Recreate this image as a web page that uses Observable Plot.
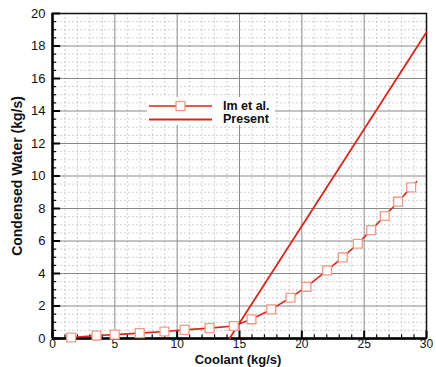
<!DOCTYPE html>
<html><head><meta charset="utf-8">
<script src="https://cdn.jsdelivr.net/npm/d3@7"></script>
<script src="https://cdn.jsdelivr.net/npm/@observablehq/plot@0.6"></script>
<style>
html,body{margin:0;padding:0;background:#fff;}
#wrap{position:relative;width:436px;height:367px;font-family:Arial,"Liberation Sans",Helvetica,sans-serif;}
#legend{position:absolute;left:147px;top:97px;width:128px;height:28px;background:#fff;}
#legend svg{position:absolute;left:0;top:0;}
#legend .lab{position:absolute;left:76px;font-weight:bold;font-size:12.5px;color:#111;line-height:14px;}
</style>
</head><body>
<div id="wrap"></div>
<script>
// Im et al. (markers)
const imX = [1.5, 3.53, 4.99, 7.0, 8.98, 10.6, 12.6, 14.54, 15.96, 17.54, 19.09, 20.37, 22.03, 23.28, 24.49, 25.56, 26.65, 27.72, 28.77];
const imY = [0.06, 0.18, 0.24, 0.33, 0.43, 0.53, 0.64, 0.77, 1.18, 1.79, 2.51, 3.18, 4.19, 4.99, 5.83, 6.67, 7.54, 8.42, 9.3];
const imTailX = [29.2];
const imTailY = [9.65];
// Present
const presentX = [14.2, 30];
const presentY = [0, 18.85];
// ticks
const xMajor = [0, 5, 10, 15, 20, 25, 30];
const yMajor = [0, 2, 4, 6, 8, 10, 12, 14, 16, 18, 20];
const xMinor = d3.range(0, 31, 1).filter(v => v % 5 !== 0);
const yMinor = d3.range(0, 20.01, 0.5).filter(v => v % 2 !== 0);
const seriesNames = ["Im et al.", "Present"];

const imPts = imX.map((x, i) => ({x, y: imY[i]}));
const imLine = imPts.concat(imTailX.map((x, i) => ({x, y: imTailY[i]})));
const presPts = presentX.map((x, i) => ({x, y: presentY[i]}));

const red = "#d8261c";
const mk = "#f29a85";

const chart = Plot.plot({
  width: 436, height: 367,
  marginLeft: 52, marginRight: 10, marginTop: 13, marginBottom: 29,
  style: {fontFamily: 'Arial, "Liberation Sans", Helvetica, sans-serif', background: "#fff"},
  x: {domain: [0, 30]},
  y: {domain: [0, 20]},
  marks: [
    Plot.ruleX(xMinor, {stroke: "#c4c4c4", strokeDasharray: "2,2", strokeWidth: 0.8}),
    Plot.ruleY(yMinor, {stroke: "#c4c4c4", strokeDasharray: "2,2", strokeWidth: 0.8}),
    Plot.ruleX(xMajor, {stroke: "#8a8a8a", strokeWidth: 1}),
    Plot.ruleY(yMajor, {stroke: "#8a8a8a", strokeWidth: 1}),
    Plot.frame({stroke: "#111", strokeWidth: 1.5}),
    Plot.ruleX([0], {stroke: "#000", strokeWidth: 2.5}),
    Plot.ruleY([0], {stroke: "#000", strokeWidth: 2.5}),
    // inward ticks
    Plot.ruleY(yMajor, {x1: 0, x2: 0.65, stroke: "#000", strokeWidth: 2}),
    Plot.ruleY(yMinor, {x1: 0, x2: 0.32, stroke: "#000", strokeWidth: 1.2}),
    Plot.ruleX(xMajor, {y1: 0, y2: 0.45, stroke: "#000", strokeWidth: 2}),
    Plot.ruleX(xMinor, {y1: 0, y2: 0.22, stroke: "#000", strokeWidth: 1.2}),
    Plot.axisY({ticks: yMajor, tickSize: 0, tickPadding: 7, fontSize: 13, color: "#111", label: null}),
    Plot.axisX({ticks: xMajor, tickSize: 0, tickPadding: 1, fontSize: 12, color: "#111", label: null}),
    // data
    Plot.line(presPts, {x: "x", y: "y", stroke: red, strokeWidth: 1.8}),
    Plot.line(imLine, {x: "x", y: "y", stroke: red, strokeWidth: 1.6}),
    Plot.dot(imPts, {x: "x", y: "y", symbol: "square", r: 5, fill: "#fff", stroke: mk, strokeWidth: 1.3})
  ]
});

const wrap = document.getElementById("wrap");
wrap.appendChild(chart);

// axis titles
const ns = "http://www.w3.org/2000/svg";
function addText(txt, x, y, rot, size) {
  const t = document.createElementNS(ns, "text");
  t.textContent = txt;
  t.setAttribute("x", x); t.setAttribute("y", y);
  t.setAttribute("text-anchor", "middle");
  t.setAttribute("font-weight", "bold");
  t.setAttribute("font-size", size);
  t.setAttribute("fill", "#111");
  if (rot) t.setAttribute("transform", `rotate(-90 ${x} ${y})`);
  chart.appendChild(t);
}
addText("Coolant (kg/s)", 238, 363.5, false, 13);
addText("Condensed Water (kg/s)", 22, 176, true, 14);

// legend
const lg = document.createElement("div");
lg.id = "legend";
lg.innerHTML = `<svg width="76" height="28">
  <line x1="2" x2="65" y1="9" y2="9" stroke="${red}" stroke-width="1.6"/>
  <rect x="29" y="4.5" width="9" height="9" fill="#fff" stroke="${mk}" stroke-width="1.3"/>
  <line x1="2" x2="65" y1="22.5" y2="22.5" stroke="${red}" stroke-width="2"/>
</svg>
<div class="lab" style="top:2px">${seriesNames[0]}</div>
<div class="lab" style="top:15px">${seriesNames[1]}</div>`;
wrap.appendChild(lg);
</script>
</body></html>
